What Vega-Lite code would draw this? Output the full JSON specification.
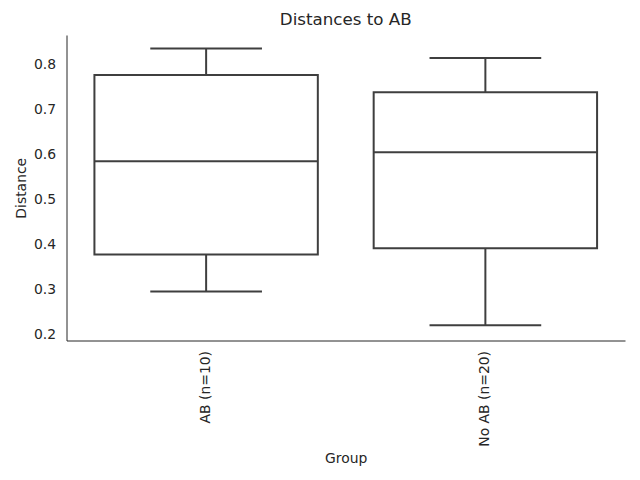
{
  "$schema": "https://vega.github.io/schema/vega-lite/v6.json",
  "autosize": {"type": "none"},
  "width": 558.5,
  "height": 305.5,
  "padding": {"left": 66.5, "top": 35, "right": 15, "bottom": 139.5},
  "background": "white",
  "title": {"text": "Distances to AB", "font": "DejaVu Sans", "fontSize": 16.7, "fontWeight": "normal", "color": "#262626", "offset": 6},
  "data": {"values": [
    {"group": "AB (n=10)", "low": 0.296, "q1": 0.378, "median": 0.585, "q3": 0.776, "high": 0.835},
    {"group": "No AB (n=20)", "low": 0.221, "q1": 0.392, "median": 0.605, "q3": 0.738, "high": 0.814}
  ]},
  "encoding": {
    "x": {"field": "group", "type": "nominal", "title": "Group",
      "scale": {"paddingInner": 0, "paddingOuter": 0},
      "axis": {"labelAngle": -90, "ticks": false, "labelPadding": 10, "domainColor": "#262626", "domainWidth": 1,
        "labelFont": "DejaVu Sans", "labelFontSize": 13.9, "labelColor": "#262626",
        "titleFont": "DejaVu Sans", "titleFontSize": 13.9, "titleFontWeight": "normal", "titleColor": "#262626", "titlePadding": 5}}
  },
  "layer": [
    {"mark": {"type": "rule", "color": "#3f3f3f", "strokeWidth": 2},
     "encoding": {"y": {"field": "low", "type": "quantitative"}, "y2": {"field": "q1"}}},
    {"mark": {"type": "rule", "color": "#3f3f3f", "strokeWidth": 2},
     "encoding": {"y": {"field": "q3", "type": "quantitative"}, "y2": {"field": "high"}}},
    {"mark": {"type": "tick", "color": "#3f3f3f", "thickness": 2, "size": 111.7, "opacity": 1},
     "encoding": {"y": {"field": "low", "type": "quantitative"}}},
    {"mark": {"type": "tick", "color": "#3f3f3f", "thickness": 2, "size": 111.7, "opacity": 1},
     "encoding": {"y": {"field": "high", "type": "quantitative"}}},
    {"mark": {"type": "bar", "fill": "white", "stroke": "#3f3f3f", "strokeWidth": 2, "width": {"band": 0.8}},
     "encoding": {"y": {"field": "q1", "type": "quantitative"}, "y2": {"field": "q3"}}},
    {"mark": {"type": "tick", "color": "#3f3f3f", "thickness": 2, "size": 223.4, "opacity": 1},
     "encoding": {"y": {"field": "median", "type": "quantitative",
       "title": "Distance",
       "scale": {"domain": [0.187, 0.865], "nice": false, "zero": false},
       "axis": {"values": [0.2, 0.3, 0.4, 0.5, 0.6, 0.7, 0.8], "format": ".1f", "grid": false, "ticks": false, "labelPadding": 11,
         "domainColor": "#262626", "domainWidth": 1,
         "labelFont": "DejaVu Sans", "labelFontSize": 13.9, "labelColor": "#262626",
         "titleFont": "DejaVu Sans", "titleFontSize": 13.9, "titleFontWeight": "normal", "titleColor": "#262626", "titlePadding": 5}}}}
  ],
  "config": {"view": {"stroke": null}, "axis": {"grid": false}}
}
